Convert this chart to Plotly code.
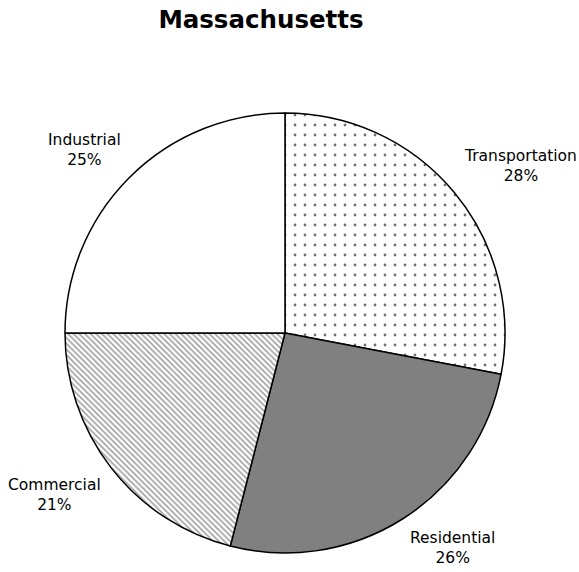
import math
import plotly.graph_objects as go

categories = ["Transportation", "Residential", "Commercial", "Industrial"]
shares = [28, 26, 21, 25]
fill_colors = ["white", "#808080", "white", "white"]
pattern_shapes = [".", "", "\\", ""]
pattern_sizes = [10, 8, 4, 8]
pattern_solidity = [0.06, 0.3, 0.4, 0.3]
pattern_fg = ["#707070", "#808080", "#a0a0a0", "#808080"]

W, H = 579, 572
CX, CY, R = 285, 333, 220   # pie centre / radius in pixels
LABEL_GAP = 1.05            # label box corner distance, in radii

fig = go.Figure(go.Pie(
    labels=categories,
    values=shares,
    sort=False,
    direction="clockwise",
    rotation=0,
    textinfo="none",
    hoverinfo="label+percent",
    marker=dict(
        colors=fill_colors,
        line=dict(color="black", width=1.5),
        pattern=dict(shape=pattern_shapes, fgcolor=pattern_fg, bgcolor=fill_colors,
                     size=pattern_sizes, solidity=pattern_solidity),
    ),
    domain=dict(x=[(CX - R) / W, (CX + R) / W], y=[(H - CY - R) / H, (H - CY + R) / H]),
    showlegend=False,
))

# outside labels: the label box corner nearest the pie sits on the slice's mid-angle
total = sum(shares)
cum = 0
annotations = []
for c, v in zip(categories, shares):
    mid = (cum + v / 2) / total * 2 * math.pi
    cum += v
    sx, sy = math.sin(mid), -math.cos(mid)
    px = CX + LABEL_GAP * R * sx
    py = CY + LABEL_GAP * R * sy
    annotations.append(dict(
        x=px / W, y=1 - py / H, xref="paper", yref="paper",
        text=f"{c}<br>{v}%", showarrow=False,
        xanchor="left" if sx >= 0 else "right",
        yanchor="top" if sy >= 0 else "bottom",
        align="center", borderpad=0,
        font=dict(family="DejaVu Sans, sans-serif", size=15.5, color="black"),
    ))

fig.update_layout(
    width=W, height=H,
    margin=dict(l=0, r=0, t=0, b=0),
    paper_bgcolor="white",
    plot_bgcolor="white",
    title=dict(text="<b>Massachusetts</b>", x=261 / W, xanchor="center",
               y=1 - 19 / H, yanchor="middle",
               font=dict(family="DejaVu Sans, sans-serif", size=24.5, color="black")),
    annotations=annotations,
)

fig.write_html("out.html", config={"displayModeBar": False},
               post_script="document.body.style.margin='0';")
